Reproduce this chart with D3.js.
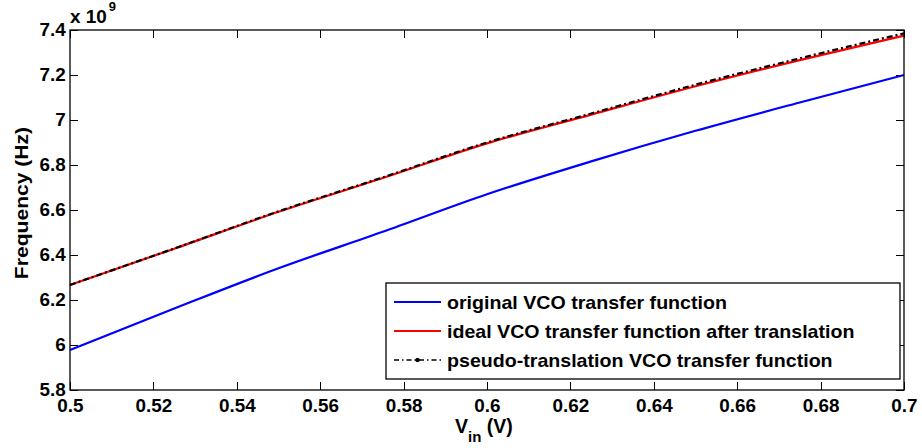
<!DOCTYPE html>
<html>
<head>
<meta charset="utf-8">
<script src="https://cdn.jsdelivr.net/npm/d3@7"></script>
<style>
  body { margin: 0; background: #fff; }
  text { font-family: "Liberation Sans", Arial, sans-serif; font-weight: bold; fill: #000; }
</style>
</head>
<body>
<svg id="chart" width="922" height="448"></svg>
<script>
// Input voltage samples (V)
const vin = [0.5, 0.525, 0.55, 0.575, 0.6, 0.625, 0.65, 0.675, 0.7];
// Output frequency in units of 1e9 Hz
const originalVco = [5.978, 6.162, 6.341, 6.503, 6.670, 6.816, 6.952, 7.078, 7.200];
const idealVco    = [6.267, 6.428, 6.592, 6.742, 6.896, 7.024, 7.150, 7.266, 7.375];
const pseudoVco   = [6.267, 6.429, 6.594, 6.745, 6.900, 7.029, 7.157, 7.274, 7.385];

const xTickValues = [0.5, 0.52, 0.54, 0.56, 0.58, 0.6, 0.62, 0.64, 0.66, 0.68, 0.7];
const xTickLabels = ["0.5", "0.52", "0.54", "0.56", "0.58", "0.6", "0.62", "0.64", "0.66", "0.68", "0.7"];
const yTickValues = [5.8, 6, 6.2, 6.4, 6.6, 6.8, 7, 7.2, 7.4];
const yTickLabels = ["5.8", "6", "6.2", "6.4", "6.6", "6.8", "7", "7.2", "7.4"];

const seriesNames  = ["original VCO transfer function",
                      "ideal VCO transfer function after translation",
                      "pseudo-translation VCO transfer function"];
const seriesColors = ["#0000ff", "#ff0000", "#000000"];

const svg = d3.select("#chart");
const plotL = 70, plotR = 904, plotT = 30, plotB = 390;
const stretch = 1.08;   // wide glyphs
const fs = 17.5;

const x = d3.scaleLinear().domain([0.5, 0.7]).range([plotL, plotR]);
const y = d3.scaleLinear().domain([5.8, 7.4]).range([plotB, plotT]);

// Axes with inward ticks on all four sides
const gx = svg.append("g").attr("transform", `translate(0,${plotB})`)
  .call(d3.axisBottom(x).tickValues(xTickValues).tickSizeInner(-8).tickSizeOuter(0)
        .tickPadding(10).tickFormat((d, i) => xTickLabels[i]));
const gy = svg.append("g").attr("transform", `translate(${plotL},0)`)
  .call(d3.axisLeft(y).tickValues(yTickValues).tickSizeInner(-8).tickSizeOuter(0)
        .tickPadding(4).tickFormat((d, i) => yTickLabels[i]));
const gt = svg.append("g").attr("transform", `translate(0,${plotT})`)
  .call(d3.axisTop(x).tickValues(xTickValues).tickSizeInner(-8).tickSizeOuter(0).tickFormat(""));
const gr = svg.append("g").attr("transform", `translate(${plotR},0)`)
  .call(d3.axisRight(y).tickValues(yTickValues).tickSizeInner(-8).tickSizeOuter(0).tickFormat(""));

[gx, gy, gt, gr].forEach(g => {
  g.select(".domain").remove();
  g.selectAll(".tick line").attr("stroke", "#000").attr("shape-rendering", "crispEdges");
  g.selectAll("text")
    .style("font-size", fs + "px")
    .style("font-family", "'Liberation Sans', Arial, sans-serif")
    .style("font-weight", "bold")
    .attr("fill", "#000")
    .attr("transform", `scale(${stretch},1)`);
});

// Series lines
const line = d3.line().x((d, i) => x(vin[i])).y(d => y(d)).curve(d3.curveMonotoneX);
const plot = svg.append("g");
plot.append("path").datum(originalVco).attr("d", line)
  .attr("fill", "none").attr("stroke", seriesColors[0]).attr("stroke-width", 2.2);
plot.append("path").datum(idealVco).attr("d", line)
  .attr("fill", "none").attr("stroke", seriesColors[1]).attr("stroke-width", 2.2);
plot.append("path").datum(pseudoVco).attr("d", line)
  .attr("fill", "none").attr("stroke", seriesColors[2]).attr("stroke-width", 2.2)
  .attr("stroke-dasharray", "6,3,2,3");

// Plot frame
svg.append("rect").attr("x", plotL).attr("y", plotT)
  .attr("width", plotR - plotL).attr("height", plotB - plotT)
  .attr("fill", "none").attr("stroke", "#000").attr("stroke-width", 1.3);

// Exponent marker
const expo = svg.append("g").attr("transform", `translate(${plotL},23) scale(${stretch},1)`);
expo.append("text").attr("x", 0).attr("y", 0).style("font-size", fs + "px").text("x 10");
expo.append("text").attr("x", 36).attr("y", -12).style("font-size", "12px").text("9");

// Axis labels
svg.append("text")
  .attr("transform", `translate(28,203) rotate(-90) scale(1.14,1)`)
  .attr("text-anchor", "middle")
  .style("font-size", "18.5px")
  .text("Frequency (Hz)");

const xl = svg.append("text").attr("x", 455).attr("y", 433).style("font-size", "19.5px");
xl.append("tspan").text("V");
xl.append("tspan").attr("dy", 9).style("font-size", "15px").text("in");
xl.append("tspan").attr("dy", -9).text(" (V)");

// Legend
const lg = svg.append("g");
lg.append("rect").attr("x", 386).attr("y", 283).attr("width", 514).attr("height", 96)
  .attr("fill", "#fff").attr("stroke", "#000").attr("stroke-width", 1.3);
const rowY = [302, 331, 360];
seriesNames.forEach((name, i) => {
  const ln = lg.append("line").attr("x1", 394).attr("x2", 441)
    .attr("y1", rowY[i]).attr("y2", rowY[i])
    .attr("stroke", seriesColors[i]).attr("stroke-width", 2.2);
  if (i === 2) {
    ln.attr("stroke-width", 1.5).attr("stroke-dasharray", "5,3,1.5,3");
    lg.append("circle").attr("cx", 417.5).attr("cy", rowY[i]).attr("r", 2.2).attr("fill", "#000");
  }
  lg.append("text")
    .attr("transform", `translate(447,${rowY[i] + 6.5}) scale(1.09,1)`)
    .style("font-size", "18px")
    .text(name);
});
</script>
</body>
</html>
